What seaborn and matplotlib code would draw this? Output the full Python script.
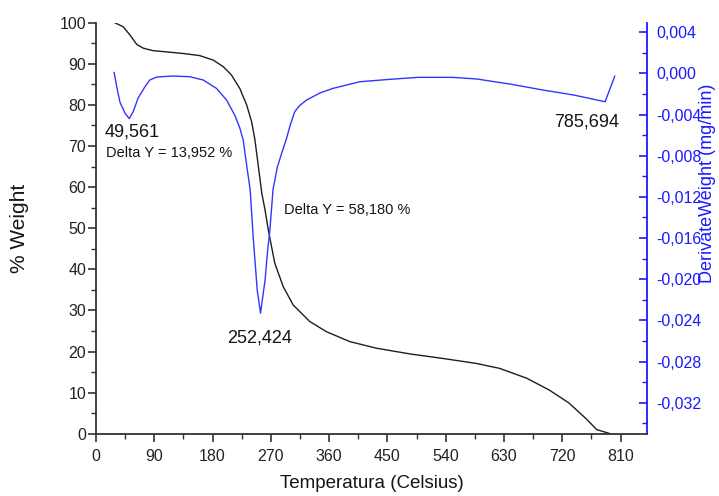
import matplotlib
matplotlib.use("Agg")
import matplotlib.pyplot as plt
from matplotlib.ticker import MultipleLocator, FuncFormatter
import seaborn as sns
import pandas as pd

# TGA weight-loss curve (%)
temp_w = [29, 42, 52.5, 63, 73, 88, 109, 135, 160, 181, 196.5, 209, 222,
          232.6, 240.3, 245.4, 252, 256, 261, 266, 276, 289, 304.5, 330, 356,
          392, 433, 485, 536, 587, 623, 665, 700, 730, 757, 773, 794]
weight = [100.0, 99.0, 97.0, 94.7, 93.8, 93.2, 92.9, 92.5, 92.0, 90.9, 89.3,
          87.3, 84.0, 80.0, 75.9, 71.5, 63.4, 58.5, 54.4, 49.6, 41.5, 35.8,
          31.3, 27.3, 24.8, 22.4, 20.8, 19.4, 18.3, 17.1, 15.9, 13.5, 10.6,
          7.5, 3.6, 1.0, 0.0]

# DTG curve (mg/min)
temp_d = [28, 32, 37, 45, 51.4, 57.6, 65, 75.6, 83, 93.6, 119, 145, 165.6,
          186, 201.7, 214.5, 222, 227.3, 233, 238, 243, 249, 254, 261, 265,
          268.5, 273.3, 280, 287, 294.3, 300, 307, 315, 325, 346, 366, 407,
          450, 497, 551, 588, 639, 690, 737, 786, 801]
deriv = [0.0001, -0.0013, -0.0028, -0.0039, -0.0044, -0.0037, -0.0024,
         -0.0013, -0.00065, -0.00036, -0.00026, -0.00033, -0.00065, -0.00146,
         -0.0026, -0.0041, -0.0053, -0.0065, -0.0091, -0.0113, -0.0162,
         -0.0211, -0.0233, -0.0201, -0.0172, -0.0152, -0.0113, -0.0091,
         -0.0077, -0.0063, -0.0050, -0.0037, -0.0031, -0.0026, -0.0019,
         -0.00146, -0.00082, -0.0006, -0.00039, -0.00039, -0.00055, -0.00104,
         -0.00162, -0.0021, -0.00276, -0.00026]

peak_labels = ["49,561", "252,424", "785,694"]
delta_labels = ["Delta Y = 13,952 %", "Delta Y = 58,180 %"]

sns.set_style("ticks")
plt.rcParams["font.family"] = ["Liberation Sans", "DejaVu Sans"]

BLUE = "#3434ff"
AXBLUE = "#1a1aff"
INK = "#151515"

fig = plt.figure(figsize=(7.19, 4.96), dpi=100)
ax = fig.add_axes([96 / 719, 1 - 433.7 / 496, 551 / 719, 411 / 496])
ax2 = ax.twinx()

df_w = pd.DataFrame({"T": temp_w, "W": weight})
df_d = pd.DataFrame({"T": temp_d, "D": deriv})
sns.lineplot(data=df_w, x="T", y="W", ax=ax, color="#1e1e1e", lw=1.0,
             sort=False)
sns.lineplot(data=df_d, x="T", y="D", ax=ax2, color=BLUE, lw=1.0, sort=False)

ax.set_xlim(0, 850.7)
ax.set_ylim(0, 100)
ax2.set_ylim(-0.03501, 0.00492)

ax.xaxis.set_major_locator(MultipleLocator(90))
ax.xaxis.set_minor_locator(MultipleLocator(45))
ax.yaxis.set_major_locator(MultipleLocator(10))
ax.yaxis.set_minor_locator(MultipleLocator(5))
ax2.yaxis.set_major_locator(MultipleLocator(0.004))
ax2.yaxis.set_minor_locator(MultipleLocator(0.002))
ax2.yaxis.set_major_formatter(
    FuncFormatter(lambda v, p: f"{v:.3f}".replace(".", ",").replace("-0,000", "0,000")))

for a in (ax, ax2):
    a.set_xlabel("")
    a.set_ylabel("")
    a.spines["top"].set_visible(False)

ax.spines["left"].set_color("#333333")
ax.spines["bottom"].set_color("#333333")
ax.spines["right"].set_visible(False)
ax2.spines["left"].set_visible(False)
ax2.spines["bottom"].set_visible(False)
ax2.spines["right"].set_color(AXBLUE)
for s in ("left", "bottom"):
    ax.spines[s].set_linewidth(1.3)
ax2.spines["right"].set_linewidth(1.3)

ax.tick_params(axis="both", which="major", direction="out", length=6,
               width=1.2, color="#333333", labelsize=11.5, labelcolor="#222222")
ax.tick_params(axis="both", which="minor", direction="out", length=3.5,
               width=1.0, color="#333333")
ax.tick_params(axis="y", which="major", pad=1)
ax.tick_params(axis="x", which="major", pad=5)
ax2.tick_params(axis="y", which="major", direction="in", length=6, width=1.2,
                color=AXBLUE, labelcolor=AXBLUE, labelsize=11.5, pad=6.5)
ax2.tick_params(axis="y", which="minor", direction="in", length=3.5,
                width=1.0, color=AXBLUE)

fig.text(372 / 719, 1 - 483 / 496, "Temperatura (Celsius)", ha="center",
         va="center", fontsize=13.5, color=INK)
fig.text(20 / 719, 1 - 228 / 496, "% Weight", ha="center", va="center",
         rotation=90, fontsize=15, color=INK)
fig.text(708 / 719, 1 - 183 / 496, "DerivateWeight (mg/min)", ha="center",
         va="center", rotation=90, fontsize=13, color=AXBLUE)

ax.text(13.9, 73.4, peak_labels[0], fontsize=13, va="center", color=INK)
ax.text(202, 23.3, peak_labels[1], fontsize=13, va="center", color=INK)
ax.text(708, 75.8, peak_labels[2], fontsize=13, va="center", color=INK)
ax.text(15.4, 68.3, delta_labels[0], fontsize=10.5, va="center", color=INK)
ax.text(290, 54.4, delta_labels[1], fontsize=10.5, va="center", color=INK)

fig.savefig("out.png", dpi=100)
